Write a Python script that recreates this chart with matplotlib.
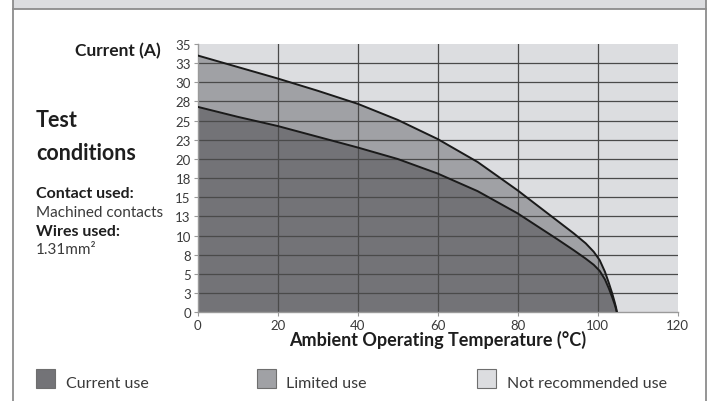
import matplotlib.pyplot as plt
from matplotlib.patches import Rectangle
from matplotlib.lines import Line2D

# data
temp_limited = [0, 10, 20, 30, 40, 50, 60, 70, 80, 85, 90, 94, 97, 99, 100.5, 101.8, 102.8, 103.6, 104.2, 104.6, 104.8]
current_limited = [33.5, 32.0, 30.5, 28.9, 27.2, 25.1, 22.6, 19.6, 15.9, 13.9, 11.9, 10.3, 9.0, 7.9, 6.8, 5.3, 3.8, 2.5, 1.4, 0.6, 0]

temp_current = [0, 10, 20, 30, 40, 50, 60, 70, 80, 85, 90, 94, 97, 99, 100.5, 101.8, 102.8, 103.6, 104.2, 104.6, 104.8]
current_current = [26.8, 25.5, 24.3, 22.9, 21.5, 20.0, 18.1, 15.8, 12.9, 11.2, 9.5, 8.1, 7.0, 6.2, 5.4, 4.3, 3.1, 2.0, 1.1, 0.4, 0]

y_ticks = [0, 2.5, 5, 7.5, 10, 12.5, 15, 17.5, 20, 22.5, 25, 27.5, 30, 32.5, 35]
y_tick_labels = ['0', '3', '5', '8', '10', '13', '15', '18', '20', '23', '25', '28', '30', '33', '35']
x_ticks = [0, 20, 40, 60, 80, 100, 120]

legend_labels = ['Current use', 'Limited use', 'Not recommended use']

c_dark = '#737377'
c_mid = '#a0a1a5'
c_light = '#dcdde0'
c_grid = '#4a4a4a'
c_text = '#1e1e1e'
c_soft = '#3a3a3a'

plt.rcParams['font.family'] = ['Lato', 'DejaVu Sans']

fig = plt.figure(figsize=(7.14, 4.02), dpi=100)
W, H = 714, 402


def fx(px):
    return px / W


def fy(py):
    return 1 - py / H


# frame: header strip and side borders
fig.add_artist(Rectangle((fx(12.5), fy(9.5)), fx(706) - fx(12.5), 1 - fy(9.5),
                         transform=fig.transFigure, facecolor=c_light, edgecolor='none'))
fig.add_artist(Line2D([fx(12.5), fx(706)], [fy(9.5), fy(9.5)], transform=fig.transFigure,
                      color='#8c8c8c', lw=1.3))
fig.add_artist(Line2D([fx(12.5), fx(12.5)], [0, 1], transform=fig.transFigure,
                      color='#8c8c8c', lw=1.3))
fig.add_artist(Line2D([fx(706), fx(706)], [0, 1], transform=fig.transFigure,
                      color='#8c8c8c', lw=1.3))

ax = fig.add_axes([fx(197.7), fy(313.3), fx(677.7) - fx(197.7), fy(45) - fy(313.3)])
ax.set_facecolor(c_light)

ax.fill_between(temp_limited, current_limited, 0, color=c_mid, lw=0, zorder=1)
ax.fill_between(temp_current, current_current, 0, color=c_dark, lw=0, zorder=1.1)

for v in y_ticks[1:-1]:
    ax.axhline(v, color=c_grid, lw=0.9, zorder=2)
for v in x_ticks[1:-1]:
    ax.axvline(v, color=c_grid, lw=0.9, zorder=2)

ax.plot(temp_limited, current_limited, color='#1a1a1a', lw=1.4, zorder=3)
ax.plot(temp_current, current_current, color='#1a1a1a', lw=1.4, zorder=3)

ax.set_xlim(0, 120)
ax.set_ylim(0, 35)
ax.set_yticks(y_ticks)
ax.set_yticklabels(y_tick_labels)
ax.set_xticks(x_ticks)
ax.set_xticklabels([str(v) for v in x_ticks])
ax.tick_params(axis='both', labelsize=9.5, colors='#9a9a9a', labelcolor=c_soft, length=3, width=0.8, pad=2)

for s in ['top', 'right']:
    ax.spines[s].set_visible(False)
for s in ['left', 'bottom']:
    ax.spines[s].set_color('#9a9a9a')
    ax.spines[s].set_linewidth(1.0)

ax.set_xlabel('Ambient Operating Temperature (°C)', fontsize=13, fontweight='bold',
              color=c_text, labelpad=-1)

# left side text
fig.text(fx(161), fy(56), 'Current (A)', ha='right', va='baseline', fontsize=12.5,
         fontweight='bold', color=c_text)
fig.text(fx(36), fy(127), 'Test', ha='left', va='baseline', fontsize=15.5,
         fontweight='bold', color=c_text)
fig.text(fx(36), fy(160.5), 'conditions', ha='left', va='baseline', fontsize=15.5,
         fontweight='bold', color=c_text)
fig.text(fx(36), fy(198.5), 'Contact used:', ha='left', va='baseline', fontsize=11.5,
         fontweight='bold', color=c_text)
fig.text(fx(36), fy(217.5), 'Machined contacts', ha='left', va='baseline', fontsize=11,
         color=c_soft)
fig.text(fx(36), fy(236.5), 'Wires used:', ha='left', va='baseline', fontsize=11.5,
         fontweight='bold', color=c_text)
fig.text(fx(36), fy(254), '1.31mm²', ha='left', va='baseline', fontsize=11,
         color=c_soft)

# legend
legend_colors = [c_dark, c_mid, c_light]
legend_x = [36, 256.5, 477.5]
for lab, col, x0 in zip(legend_labels, legend_colors, legend_x):
    fig.add_artist(Rectangle((fx(x0), fy(389)), fx(19), 19 / H, transform=fig.transFigure,
                             facecolor=col, edgecolor='#6e6e6e', lw=0.8))
    fig.text(fx(x0 + 29.5), fy(388), lab, ha='left', va='baseline', fontsize=11.5,
             color=c_soft)

plt.savefig('out.png', dpi=100)
